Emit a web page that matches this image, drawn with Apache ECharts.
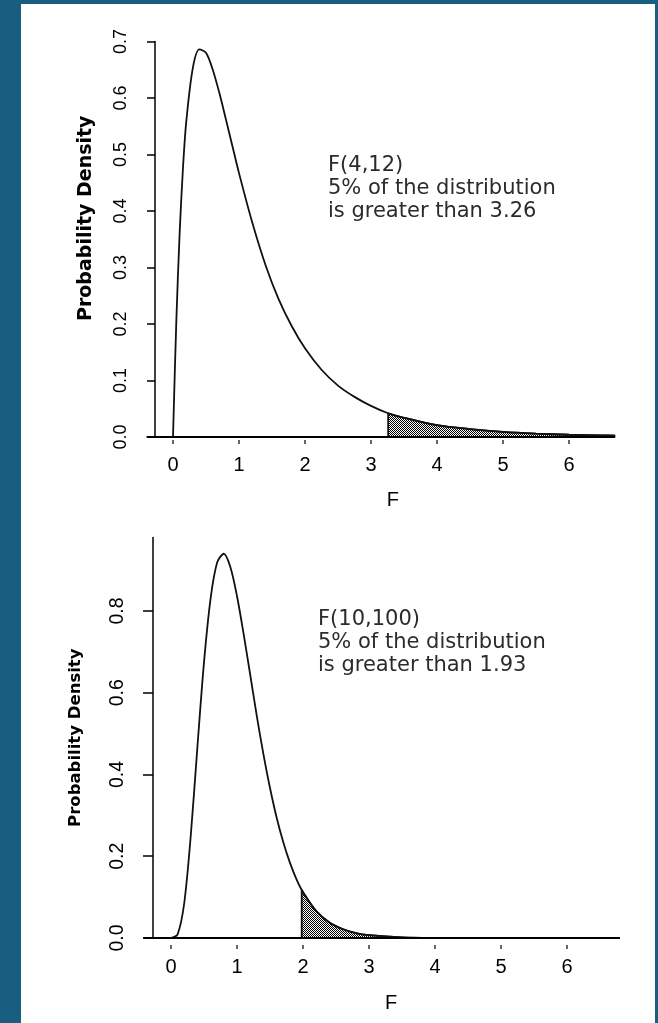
<!DOCTYPE html>
<html lang="en">
<head>
<meta charset="UTF-8">
<title>F distributions</title>
<script src="https://cdn.jsdelivr.net/npm/echarts@6.0.0/dist/echarts.min.js"></script>
<style>
	html, body { margin: 0; padding: 0; background: #175e80; }
	#paper { position: absolute; left: 21px; top: 4px; width: 634px; height: 1019px; background: #fff; }
	#main { position: absolute; left: 0; top: 0; width: 658px; height: 1023px; }
</style>
</head>
<body>
<div id="paper"></div>
<div id="main"></div>
<script>
	// tick labels
	var fTicks = [0, 1, 2, 3, 4, 5, 6];
	var topDensityTicks = [0, 0.1, 0.2, 0.3, 0.4, 0.5, 0.6, 0.7];
	var bottomDensityTicks = [0, 0.2, 0.4, 0.6, 0.8];

	// F(4,12) curve
	var topF = [0, 0.05, 0.1, 0.15, 0.2, 0.3, 0.4, 0.5, 0.6, 0.7, 0.8, 0.9, 1.0, 1.2, 1.4, 1.6, 1.8, 2.0, 2.25, 2.5, 2.75, 3.0, 3.26, 3.5, 4.0, 4.5, 5.0, 5.5, 6.0, 6.5, 6.7];
	var topDensity = [0, 0.204, 0.359, 0.474, 0.557, 0.653, 0.686, 0.680, 0.651, 0.610, 0.563, 0.515, 0.467, 0.380, 0.305, 0.244, 0.196, 0.157, 0.119, 0.091, 0.071, 0.055, 0.042, 0.034, 0.021, 0.014, 0.009, 0.006, 0.004, 0.003, 0.0026];
	// shaded upper 5% tail
	var topTailF = [3.26, 3.26, 3.5, 4.0, 4.5, 5.0, 5.5, 6.0, 6.5, 6.7];
	var topTailDensity = [0, 0.042, 0.034, 0.021, 0.014, 0.009, 0.006, 0.004, 0.003, 0.0026];

	// F(10,100) curve
	var bottomF = [0, 0.1, 0.2, 0.3, 0.4, 0.5, 0.6, 0.7, 0.8, 0.9, 1.0, 1.1, 1.2, 1.3, 1.4, 1.5, 1.6, 1.7, 1.8, 1.9, 2.0, 2.2, 2.4, 2.6, 2.8, 3.0, 3.5, 4.0, 5.0, 6.8];
	var bottomDensity = [0, 0.009, 0.085, 0.252, 0.468, 0.675, 0.831, 0.919, 0.940, 0.907, 0.836, 0.744, 0.644, 0.543, 0.450, 0.367, 0.295, 0.235, 0.185, 0.144, 0.112, 0.066, 0.038, 0.022, 0.012, 0.007, 0.0016, 0.0004, 0, 0];
	var bottomTailF = [1.98, 1.98, 2.0, 2.2, 2.4, 2.6, 2.8, 3.0, 3.5, 4.0];
	var bottomTailDensity = [0, 0.118, 0.112, 0.066, 0.038, 0.022, 0.012, 0.007, 0.0016, 0.0004];

	function pairs(xs, ys) {
		var out = [];
		for (var i = 0; i < xs.length; i++) out.push([xs[i], ys[i]]);
		return out;
	}

	// stipple fill like the R shading
	var dots = document.createElement('canvas');
	dots.width = 2;
	dots.height = 2;
	var dctx = dots.getContext('2d');
	dctx.fillStyle = '#ffffff';
	dctx.fillRect(0, 0, 2, 2);
	dctx.fillStyle = '#000000';
	dctx.fillRect(0, 0, 1, 1);
	dctx.fillRect(1, 1, 1, 1);

	var labelFont = 'Liberation Sans';
	var noteFont = 'DejaVu Sans';

	function xAxisFor(gridIndex, min, max, offset, margin, gap, pad) {
		return {
			type: 'value', gridIndex: gridIndex, min: min, max: max, offset: offset,
			name: 'F', nameLocation: 'middle', nameGap: gap,
			nameTextStyle: { fontFamily: labelFont, fontSize: 20, color: '#000', padding: [0, 0, 0, pad] },
			axisLine: { show: false, onZero: false },
			axisTick: { show: true, length: 4, customValues: fTicks, lineStyle: { color: '#333', width: 1.5 } },
			axisLabel: { customValues: fTicks, margin: margin, fontFamily: labelFont, fontSize: 20, color: '#000',
				formatter: function(v) { return String(Math.round(v)); } },
			splitLine: { show: false }
		};
	}

	function yAxisFor(gridIndex, max, ticks, offset, tickLen, margin, fontSize, gap, nameSize, pad) {
		return {
			type: 'value', gridIndex: gridIndex, min: 0, max: max, offset: offset,
			name: 'Probability Density', nameLocation: 'middle', nameGap: gap,
			nameTextStyle: { fontFamily: noteFont, fontWeight: 'bold', fontSize: nameSize, color: '#000', padding: [0, 0, 0, pad] },
			axisLine: { show: true, onZero: false, lineStyle: { color: '#000', width: 1.5 } },
			axisTick: { show: true, length: tickLen, customValues: ticks, lineStyle: { color: '#000', width: 1.5 } },
			axisLabel: { customValues: ticks, rotate: 90, margin: margin, fontFamily: labelFont, fontSize: fontSize, color: '#000',
				formatter: function(v) { return v.toFixed(1); } },
			splitLine: { show: false }
		};
	}

	function curve(xi, data) {
		return {
			type: 'line', xAxisIndex: xi, yAxisIndex: xi, data: data,
			smooth: 0.3, showSymbol: false, silent: true,
			lineStyle: { color: '#111', width: 1.8 },
			markLine: {
				silent: true, symbol: ['none', 'none'], label: { show: false },
				lineStyle: { color: '#000', width: 2, type: 'solid' },
				data: [{ yAxis: 0 }]
			},
			z: 3
		};
	}

	function tail(xi, data) {
		return {
			type: 'line', xAxisIndex: xi, yAxisIndex: xi, data: data,
			smooth: 0.3, showSymbol: false, silent: true,
			lineStyle: { color: '#111', width: 1.8 },
			areaStyle: { color: { image: dots, repeat: 'repeat' }, opacity: 1 },
			z: 2
		};
	}

	var myChart = echarts.init(document.getElementById('main'), null, { renderer: 'canvas' });

	var option = {
		animation: false,
		backgroundColor: 'transparent',
		grid: [
			{ left: 146.6, top: 41.5, width: 468.6, height: 395.5, outerBoundsMode: 'none' },
			{ left: 143.3, top: 537.4, width: 476.5, height: 400.6, outerBoundsMode: 'none' }
		],
		xAxis: [
			xAxisFor(0, -0.4, 6.7, 3, 15, 50, 24),
			xAxisFor(1, -0.42, 6.8, 7, 12, 48, 19)
		],
		yAxis: [
			yAxisFor(0, 0.7, topDensityTicks, -8.4, 8, 25, 18, 59.5, 19, 42),
			yAxisFor(1, 0.98, bottomDensityTicks, -9.7, 10, 25, 19.5, 69, 16.5, 0)
		],
		graphic: [
			{ type: 'text', left: 328, top: 154.5, silent: true,
				style: { text: 'F(4,12)\n5% of the distribution\nis greater than 3.26', font: '21px "DejaVu Sans"', lineHeight: 23, fill: '#2b2b2b' } },
			{ type: 'text', left: 318, top: 608, silent: true,
				style: { text: 'F(10,100)\n5% of the distribution\nis greater than 1.93', font: '21px "DejaVu Sans"', lineHeight: 23, fill: '#2b2b2b' } }
		],
		series: [
			tail(0, pairs(topTailF, topTailDensity)),
			curve(0, pairs(topF, topDensity)),
			tail(1, pairs(bottomTailF, bottomTailDensity)),
			curve(1, pairs(bottomF, bottomDensity))
		]
	};

	myChart.setOption(option);
</script>
</body>
</html>
